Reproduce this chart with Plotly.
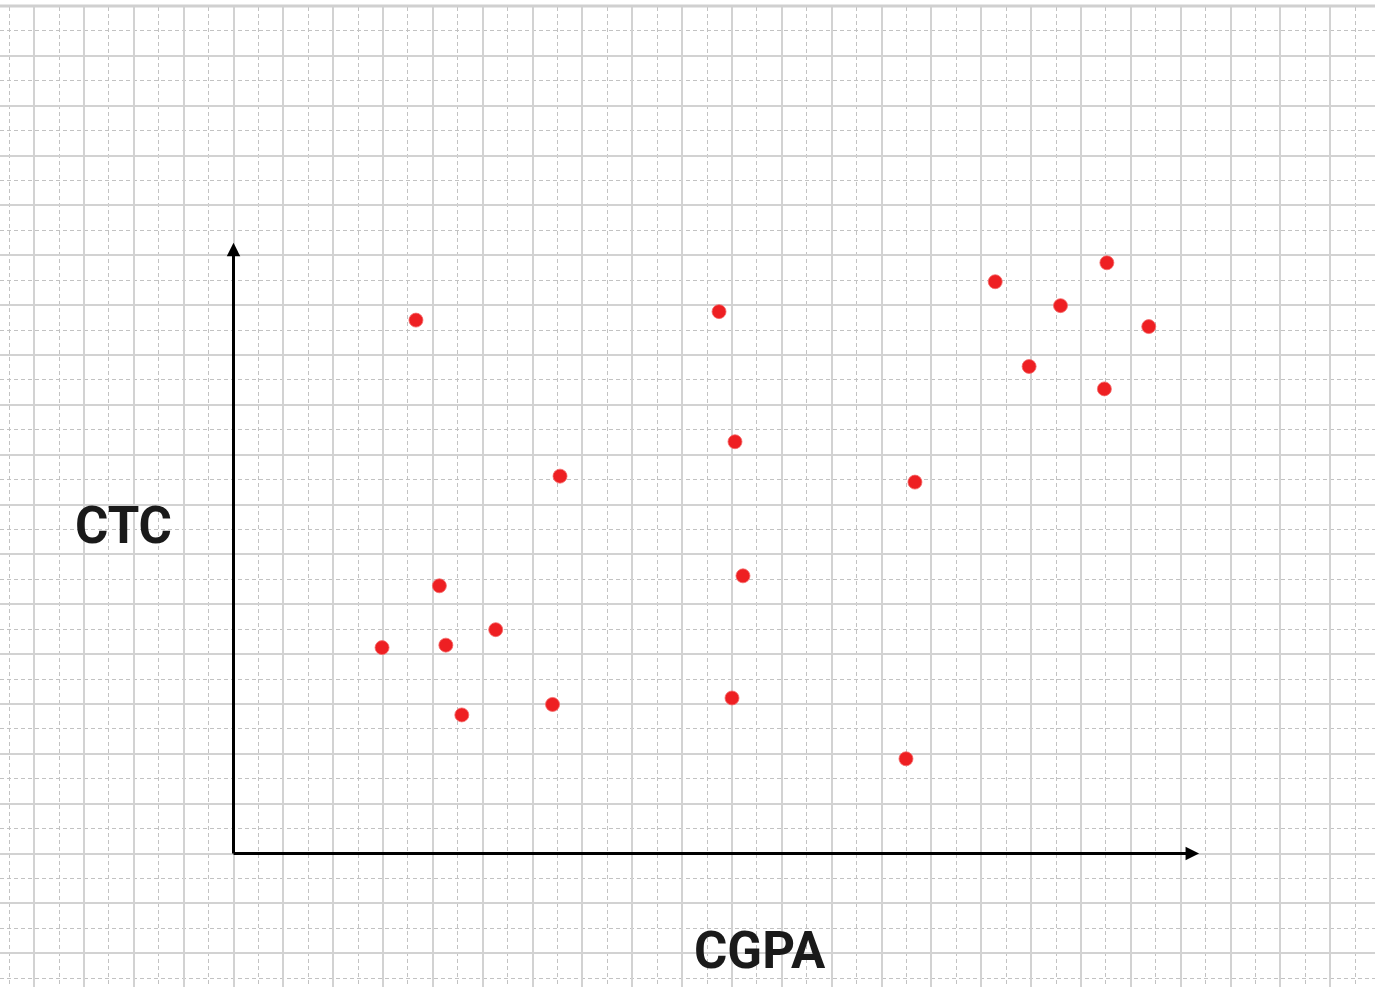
import plotly.graph_objects as go

# Data (grid units: one major grid square = 1)
cgpa = [3.66, 9.74, 15.28, 17.52, 16.59, 18.36, 15.96, 17.47, 10.06, 6.55,
        13.67, 4.13, 10.22, 5.26, 2.98, 4.26, 4.58, 6.40, 10.00, 13.49]
ctc = [10.70, 10.87, 11.47, 11.85, 10.99, 10.57, 9.77, 9.32, 8.26, 7.57,
       7.45, 5.37, 5.57, 4.49, 4.13, 4.18, 2.78, 2.99, 3.12, 1.90]

x_label = "CGPA"
y_label = "CTC"

W, H = 1375, 987
unit = 49.85
ox, oy = 233.5, 853.5
x_range = [-ox / unit, (W - ox) / unit]
y_range = [-(H - oy) / unit, oy / unit]

x_tip = 19.37
y_tip = 12.25

fig = go.Figure()
fig.add_trace(go.Scatter(
    x=cgpa, y=ctc, mode="markers",
    marker=dict(size=14, color="#ee1f22", line=dict(width=0.8, color="#f46a6a")),
    hoverinfo="skip", showlegend=False,
))

grid_major = "#d2d2d2"
grid_minor = "#c2c2c2"
axis_common = dict(
    showticklabels=False, ticks="", zeroline=False, showline=False,
    showgrid=True, gridcolor=grid_major, gridwidth=1.6,
    tick0=0, dtick=1,
    minor=dict(tick0=0, dtick=0.5, showgrid=True, gridcolor=grid_minor,
               gridwidth=0.9, griddash="4px,3px", ticks=""),
    fixedrange=True,
)
fig.update_xaxes(range=x_range, **axis_common)
fig.update_yaxes(range=y_range, **axis_common)

shapes = [
    # white band above the top border of the paper grid
    dict(type="rect", xref="paper", yref="y", x0=0, x1=1, y0=17, y1=y_range[1] + 1,
         fillcolor="white", line=dict(width=0), layer="above"),
    dict(type="line", xref="paper", yref="y", x0=0, x1=1, y0=17, y1=17,
         line=dict(color="#d0d0d0", width=3), layer="above"),
]

annotations = [
    # x axis arrow
    dict(x=x_tip, y=0, ax=-0.03, ay=0, xref="x", yref="y", axref="x", ayref="y",
         text="", showarrow=True, arrowhead=2, arrowsize=0.9, arrowwidth=3,
         arrowcolor="#000000", standoff=0, startstandoff=0),
    # y axis arrow
    dict(x=0, y=y_tip, ax=0, ay=-0.03, xref="x", yref="y", axref="x", ayref="y",
         text="", showarrow=True, arrowhead=2, arrowsize=0.9, arrowwidth=3,
         arrowcolor="#000000", standoff=0, startstandoff=0),
    dict(x=123 / W, y=1 - 525 / H, xref="paper", yref="paper", text=f"<b>{y_label}</b>",
         showarrow=False, xanchor="center", yanchor="middle",
         font=dict(family="Roboto", size=51, color="#1a1a1a")),
    dict(x=760 / W, y=1 - 950 / H, xref="paper", yref="paper", text=f"<b>{x_label}</b>",
         showarrow=False, xanchor="center", yanchor="middle",
         font=dict(family="Roboto", size=51, color="#1a1a1a")),
]

fig.update_layout(
    width=W, height=H,
    margin=dict(l=0, r=0, t=0, b=0, pad=0),
    paper_bgcolor="white", plot_bgcolor="white",
    shapes=shapes, annotations=annotations,
    showlegend=False,
)

fig.write_html("out.html", config={"displayModeBar": False},
               post_script="document.body.style.margin='0';document.body.style.overflow='hidden';")
